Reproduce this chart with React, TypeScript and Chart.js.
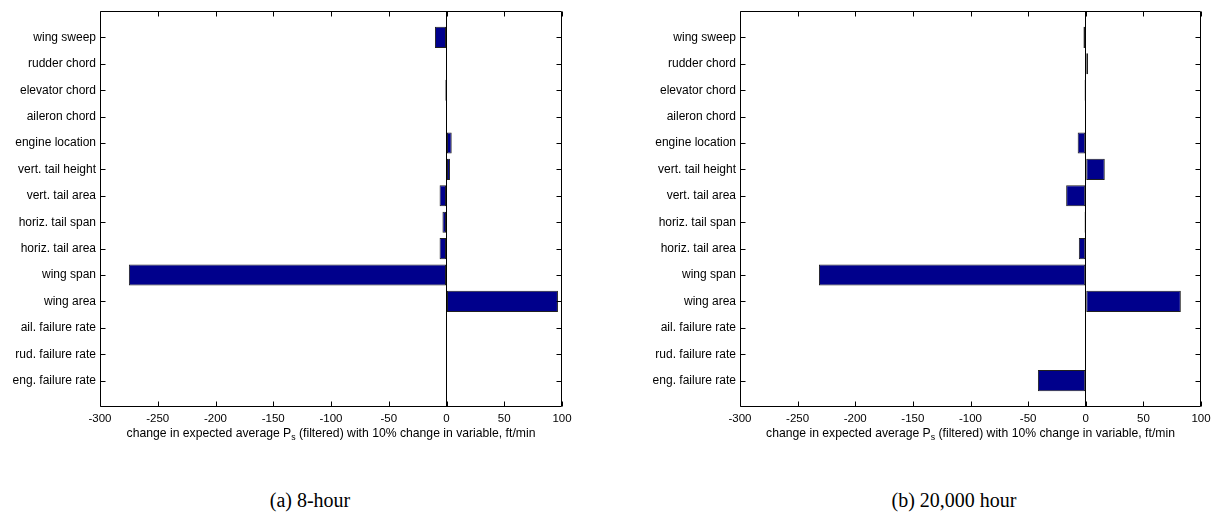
import React, { useEffect, useRef } from 'react';
import { Chart, registerables } from 'chart.js';

Chart.register(...registerables);

// Categories listed bottom-to-top (MATLAB barh order)
const categories = [
  'eng. failure rate',
  'rud. failure rate',
  'ail. failure rate',
  'wing area',
  'wing span',
  'horiz. tail area',
  'horiz. tail span',
  'vert. tail area',
  'vert. tail height',
  'engine location',
  'aileron chord',
  'elevator chord',
  'rudder chord',
  'wing sweep',
];
const values8Hour = [0, 0, 0, 96.5, -275, -6, -3.5, -6, 3, 4.5, 0, -1, 0, -10];
const values20000Hour = [-41.5, 0, 0, 82.5, -231.5, -6, -1, -17, 16.5, -7, 0, -1, 2, -2];
const xTicks = [-300, -250, -200, -150, -100, -50, 0, 50, 100];
const xMin = -300;
const xMax = 100;
const captions = ['(a) 8-hour', '(b) 20,000 hour'];
const axisTitleParts = ['change in expected average P', 's', ' (filtered) with 10% change in variable, ft/min'];

const FONT_FAMILY = '"Liberation Sans", Arial, sans-serif';
const LABEL_SIZE = 12;
const XTICK_SIZE = 11.5;
const TITLE_SIZE = 12.2;

const framePlugin = {
  id: 'matlabFrame',
  afterDraw(chart: any) {
    const { ctx, chartArea } = chart;
    const xs = chart.scales.x;
    const ys = chart.scales.y;
    const l = Math.round(chartArea.left) + 0.5;
    const r = Math.round(chartArea.right) - 0.5;
    const t = Math.round(chartArea.top) + 0.5;
    const b = Math.round(chartArea.bottom) - 0.5;
    const tl = 5;
    ctx.save();
    ctx.strokeStyle = '#000';
    ctx.lineWidth = 1;
    ctx.beginPath();
    ctx.rect(l, t, r - l, b - t);
    ctx.stroke();
    ctx.beginPath();
    xTicks.forEach((v) => {
      const px = Math.round(xs.getPixelForValue(v)) + 0.5;
      ctx.moveTo(px, b);
      ctx.lineTo(px, b - tl);
      ctx.moveTo(px, t);
      ctx.lineTo(px, t + tl);
    });
    categories.forEach((_, i) => {
      const py = Math.round(ys.getPixelForValue(i + 1)) + 0.5;
      ctx.moveTo(l, py);
      ctx.lineTo(l + tl, py);
      ctx.moveTo(r, py);
      ctx.lineTo(r - tl, py);
    });
    ctx.stroke();

    // axis title with subscript
    const mainFont = `${TITLE_SIZE}px ${FONT_FAMILY}`;
    const subFont = `${TITLE_SIZE * 0.72}px ${FONT_FAMILY}`;
    ctx.font = mainFont;
    const w0 = ctx.measureText(axisTitleParts[0]).width;
    const w2 = ctx.measureText(axisTitleParts[2]).width;
    ctx.font = subFont;
    const w1 = ctx.measureText(axisTitleParts[1]).width;
    const total = w0 + w1 + w2;
    const cx = (chartArea.left + chartArea.right) / 2;
    let x = cx - total / 2;
    const y = chartArea.bottom + 30;
    ctx.fillStyle = '#000';
    ctx.textBaseline = 'alphabetic';
    ctx.textAlign = 'left';
    ctx.font = mainFont;
    ctx.fillText(axisTitleParts[0], x, y);
    x += w0;
    ctx.font = subFont;
    ctx.fillText(axisTitleParts[1], x, y + 3);
    x += w1;
    ctx.font = mainFont;
    ctx.fillText(axisTitleParts[2], x, y);
    ctx.restore();
  },
};

function makeConfig(values: number[], yAxisWidth: number, rightPad: number) {
  return {
    type: 'bar',
    data: {
      datasets: [
        {
          data: values.map((v, i) => ({ x: v, y: i + 1 })),
          backgroundColor: '#00008c',
          borderColor: '#202020',
          borderWidth: 1,
          borderSkipped: false,
          categoryPercentage: 1,
          barPercentage: 0.8,
        },
      ],
    },
    options: {
      indexAxis: 'y',
      animation: false,
      responsive: false,
      maintainAspectRatio: false,
      devicePixelRatio: 1,
      layout: { padding: { left: 0, right: rightPad, top: 11, bottom: 13 } },
      plugins: { legend: { display: false }, tooltip: { enabled: false }, title: { display: false } },
      scales: {
        x: {
          type: 'linear',
          position: 'bottom',
          min: xMin,
          max: xMax,
          offset: false,
          afterBuildTicks: (s: any) => {
            s.ticks = xTicks.map((v) => ({ value: v }));
          },
          ticks: {
            font: { family: FONT_FAMILY, size: XTICK_SIZE },
            color: '#000',
            padding: 5,
            maxRotation: 0,
            autoSkip: false,
          },
          grid: {
            drawTicks: false,
            lineWidth: 1,
            color: (c: any) => (c.tick && c.tick.value === 0 ? '#000' : 'rgba(0,0,0,0)'),
          },
          border: { display: false },
          afterFit: (s: any) => {
            s.height = 40;
            s.paddingLeft = 0;
            s.paddingRight = 0;
          },
        },
        y: {
          type: 'linear',
          position: 'left',
          min: 0,
          max: categories.length + 1,
          offset: false,
          afterBuildTicks: (s: any) => {
            s.ticks = categories.map((_, i) => ({ value: i + 1 }));
          },
          ticks: {
            font: { family: FONT_FAMILY, size: LABEL_SIZE },
            color: '#000',
            padding: 4,
            autoSkip: false,
            callback: (v: any) => categories[Number(v) - 1] ?? '',
          },
          grid: { display: false, drawTicks: false },
          border: { display: false },
          afterFit: (s: any) => {
            s.width = yAxisWidth;
            s.paddingTop = 0;
            s.paddingBottom = 0;
          },
        },
      },
    },
    plugins: [framePlugin],
  };
}

function BarPanel({ values, left, yAxisWidth, rightPad }: { values: number[]; left: number; yAxisWidth: number; rightPad: number }) {
  const ref = useRef<HTMLCanvasElement | null>(null);
  useEffect(() => {
    if (!ref.current) return;
    const chart = new Chart(ref.current, makeConfig(values, yAxisWidth, rightPad) as any);
    return () => chart.destroy();
  }, [values, yAxisWidth, rightPad]);
  return (
    <canvas
      ref={ref}
      width={608}
      height={460}
      style={{ position: 'absolute', left, top: 0, width: 608, height: 460 }}
    />
  );
}

export default function App() {
  const captionStyle: React.CSSProperties = {
    position: 'absolute',
    top: 486,
    width: 300,
    textAlign: 'center',
    fontFamily: '"Liberation Serif", "DejaVu Serif", serif',
    fontSize: 20,
    lineHeight: '28px',
    color: '#000',
  };
  return (
    <div
      style={{
        position: 'fixed',
        left: 0,
        top: 0,
        width: 1216,
        height: 525,
        overflow: 'hidden',
        background: '#fff',
      }}
    >
      <BarPanel values={values8Hour} left={0} yAxisWidth={100} rightPad={46} />
      <BarPanel values={values20000Hour} left={608} yAxisWidth={132} rightPad={15} />
      <div style={{ ...captionStyle, left: 310 - 150 }}>{captions[0]}</div>
      <div style={{ ...captionStyle, left: 954 - 150 }}>{captions[1]}</div>
    </div>
  );
}
